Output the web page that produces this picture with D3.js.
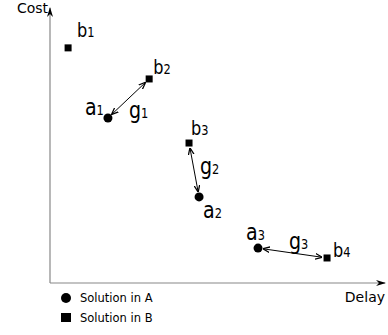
<!DOCTYPE html>
<html>
<head>
<meta charset="utf-8">
<script src="https://cdn.jsdelivr.net/npm/d3@7"></script>
<style>
  body { margin: 0; background: #fff; }
  svg { display: block; font-family: "DejaVu Sans", sans-serif; }
</style>
</head>
<body>
<div id="viz"></div>
<script>
// solutions in A (circles) and B (squares), delay / cost in abstract units
const aNames = ["a", "a", "a"];
const aDelay = [17.3, 44.5, 62.1];
const aCost = [60.0, 31.3, 12.7];

const bDelay = [5.4, 29.6, 41.5, 82.7];
const bCost = [85.5, 74.2, 50.9, 9.1];

// gaps g_i : pair (index in A, index in B)
const gapA = [0, 1, 2];
const gapB = [1, 2, 3];

const legendLabels = ["Solution in A", "Solution in B"];

// label placement (px offsets from the mark)
const aLabelOff = [[-23, -3], [4, 21], [-12, -8]];
const bLabelOff = [[9, -11], [4, -5], [2, -8], [6, -1]];
const gLabelOff = [[0.5, 20], [6, 4], [-3.5, -4.5]];

const W = 388, H = 335;
const svg = d3.select("#viz").append("svg")
  .attr("width", W)
  .attr("height", H);

const x = d3.scaleLinear().domain([0, 100]).range([50, 385]);
const y = d3.scaleLinear().domain([0, 100]).range([283, 8]);

const defs = svg.append("defs");
defs.append("marker")
  .attr("id", "axisHead")
  .attr("viewBox", "0 0 10 10")
  .attr("refX", 9).attr("refY", 5)
  .attr("markerWidth", 10).attr("markerHeight", 10)
  .attr("markerUnits", "userSpaceOnUse")
  .attr("orient", "auto")
  .append("path")
  .attr("d", "M0,2 L10,5 L0,8 L3,5 Z")
  .attr("fill", "#000");

defs.append("marker")
  .attr("id", "gapHead")
  .attr("viewBox", "0 0 10 10")
  .attr("refX", 9).attr("refY", 5)
  .attr("markerWidth", 7).attr("markerHeight", 7)
  .attr("markerUnits", "userSpaceOnUse")
  .attr("orient", "auto-start-reverse")
  .append("path")
  .attr("d", "M0,1 L10,5 L0,9")
  .attr("fill", "none")
  .attr("stroke", "#000")
  .attr("stroke-width", 1.8);

// axes
svg.append("line")
  .attr("x1", x(0)).attr("y1", y(0))
  .attr("x2", x(100)).attr("y2", y(0))
  .attr("stroke", "#888")
  .attr("stroke-width", 1.2)
  .attr("marker-end", "url(#axisHead)");

svg.append("line")
  .attr("x1", x(0)).attr("y1", y(0))
  .attr("x2", x(0)).attr("y2", y(100))
  .attr("stroke", "#888")
  .attr("stroke-width", 1.2)
  .attr("marker-end", "url(#axisHead)");

svg.append("text")
  .attr("x", x(0) - 2).attr("y", 13)
  .attr("text-anchor", "end")
  .style("font-size", "14px")
  .text("Cost");

svg.append("text")
  .attr("x", x(100)).attr("y", 302)
  .attr("text-anchor", "end")
  .style("font-size", "14px")
  .text("Delay");

// gap arrows
const shrink = 5.5;
const gaps = gapA.map((ai, i) => {
  const x1 = x(aDelay[ai]), y1 = y(aCost[ai]);
  const x2 = x(bDelay[gapB[i]]), y2 = y(bCost[gapB[i]]);
  const len = Math.hypot(x2 - x1, y2 - y1);
  const ux = (x2 - x1) / len, uy = (y2 - y1) / len;
  return {
    x1: x1 + ux * shrink, y1: y1 + uy * shrink,
    x2: x2 - ux * shrink, y2: y2 - uy * shrink,
    mx: (x1 + x2) / 2, my: (y1 + y2) / 2,
    i: i
  };
});

svg.selectAll(".gap")
  .data(gaps)
  .enter()
  .append("line")
  .attr("class", "gap")
  .attr("x1", d => d.x1).attr("y1", d => d.y1)
  .attr("x2", d => d.x2).attr("y2", d => d.y2)
  .attr("stroke", "#000")
  .attr("stroke-width", 1)
  .attr("marker-start", "url(#gapHead)")
  .attr("marker-end", "url(#gapHead)");

// points
svg.selectAll(".ptA")
  .data(aDelay)
  .enter()
  .append("circle")
  .attr("class", "ptA")
  .attr("cx", d => x(d))
  .attr("cy", (d, i) => y(aCost[i]))
  .attr("r", 4.5)
  .attr("fill", "#000");

svg.selectAll(".ptB")
  .data(bDelay)
  .enter()
  .append("rect")
  .attr("class", "ptB")
  .attr("x", d => x(d) - 3.5)
  .attr("y", (d, i) => y(bCost[i]) - 3.5)
  .attr("width", 7)
  .attr("height", 7)
  .attr("fill", "#000");

// letter + small index on the same baseline, slightly stretched upward
function subLabel(px, py, letter, idx, big, small) {
  const t = svg.append("text")
    .attr("transform", `translate(${px},${py}) scale(0.95,1.15)`);
  t.append("tspan").style("font-size", big + "px").text(letter);
  t.append("tspan").style("font-size", small + "px").text(idx);
}

// labels
aDelay.forEach((d, i) => {
  subLabel(x(d) + aLabelOff[i][0], y(aCost[i]) + aLabelOff[i][1], aNames[i], i + 1, 20, 12);
});

bDelay.forEach((d, i) => {
  subLabel(x(d) + bLabelOff[i][0], y(bCost[i]) + bLabelOff[i][1], "b", i + 1, 17, 12);
});

gaps.forEach((g, i) => {
  subLabel(g.mx + gLabelOff[i][0], g.my + gLabelOff[i][1], "g", i + 1, 20, 12);
});

// legend
const leg = svg.append("g");
leg.append("circle")
  .attr("cx", 66).attr("cy", 298).attr("r", 5)
  .attr("fill", "#000");
leg.append("rect")
  .attr("x", 61).attr("y", 313).attr("width", 10).attr("height", 9)
  .attr("fill", "#000");
leg.selectAll("text")
  .data(legendLabels)
  .enter()
  .append("text")
  .attr("x", 80)
  .attr("y", (d, i) => 302 + i * 20)
  .style("font-size", "11.5px")
  .text(d => d);
</script>
</body>
</html>
